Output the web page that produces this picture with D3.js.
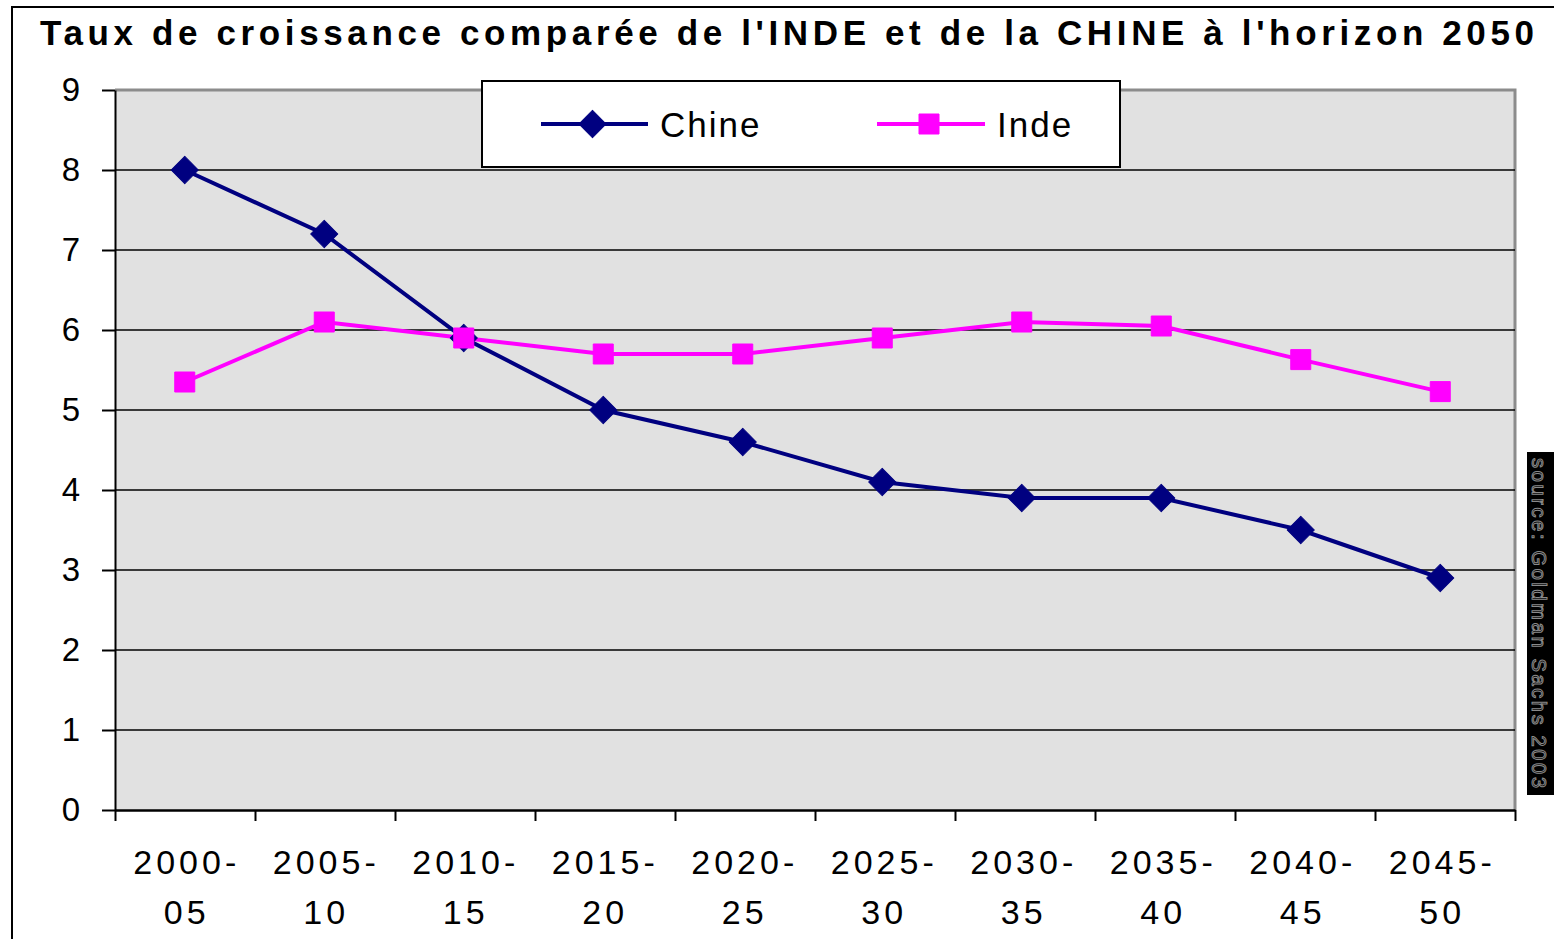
<!DOCTYPE html>
<html>
<head>
<meta charset="utf-8">
<script src="https://cdn.jsdelivr.net/npm/d3@7"></script>
<style>
  body { margin: 0; background: #fff; }
  svg { display: block; font-family: "Liberation Sans", Arial, sans-serif; }
</style>
</head>
<body>
<div id="chart"></div>
<script>
// données (taux de croissance, %)
var periodes = ["2000-05", "2005-10", "2010-15", "2015-20", "2020-25", "2025-30", "2030-35", "2035-40", "2040-45", "2045-50"];
var chine = [8.0, 7.2, 5.9, 5.0, 4.6, 4.1, 3.9, 3.9, 3.5, 2.9];
var inde = [5.35, 6.1, 5.9, 5.7, 5.7, 5.9, 6.1, 6.05, 5.63, 5.23];
var yTicks = [0, 1, 2, 3, 4, 5, 6, 7, 8, 9];

var W = 1554, H = 939;
var plot = {left: 115, right: 1515, top: 90, bottom: 810};

var svg = d3.select("#chart").append("svg")
    .attr("width", W)
    .attr("height", H);

// cadre extérieur (coupé à droite et en bas)
svg.append("rect")
    .attr("x", 12).attr("y", 7)
    .attr("width", W + 20).attr("height", H + 20)
    .attr("fill", "#fff")
    .attr("stroke", "#000")
    .attr("stroke-width", 2);

// titre
svg.append("text")
    .attr("x", 40).attr("y", 45)
    .attr("textLength", 1494)
    .attr("lengthAdjust", "spacing")
    .style("font-size", "35px")
    .style("font-weight", "bold")
    .text("Taux de croissance comparée de l'INDE et de la CHINE à l'horizon 2050");

// les points sont un peu décalés vers la gauche dans l'original
var x = d3.scaleBand()
    .domain(periodes)
    .range([plot.left, plot.right - 5]);

var xTicks = d3.scaleLinear()
    .domain([0, periodes.length])
    .range([plot.left, plot.right]);

var y = d3.scaleLinear()
    .domain([0, 9])
    .range([plot.bottom, plot.top]);

// fond de la zone de tracé
svg.append("rect")
    .attr("x", plot.left).attr("y", plot.top)
    .attr("width", plot.right - plot.left)
    .attr("height", plot.bottom - plot.top)
    .attr("fill", "#e1e1e1");

// bordure grise haut / droite
svg.append("path")
    .attr("d", "M" + plot.left + "," + plot.top + "H" + plot.right + "V" + plot.bottom)
    .attr("fill", "none")
    .attr("stroke", "#8c8c8c")
    .attr("stroke-width", 3);

// quadrillage
svg.append("g")
    .selectAll("line")
    .data(yTicks.filter(function(d) { return d > 0 && d < 9; }))
    .enter().append("line")
    .attr("x1", plot.left).attr("x2", plot.right)
    .attr("y1", function(d) { return y(d); })
    .attr("y2", function(d) { return y(d); })
    .attr("stroke", "#000")
    .attr("stroke-width", 1.5);

// axe Y
var yAxis = svg.append("g")
    .attr("transform", "translate(" + plot.left + ",0)")
    .call(d3.axisLeft(y).tickValues(yTicks).tickSize(13).tickSizeOuter(0).tickPadding(22));
yAxis.select(".domain").attr("stroke", "#000").attr("stroke-width", 2);
yAxis.selectAll(".tick line").attr("stroke", "#000").attr("stroke-width", 2);
yAxis.selectAll(".tick text")
    .style("font-size", "33px")
    .style("font-family", "'Liberation Sans', Arial, sans-serif")
    .attr("fill", "#000");

// axe X
var xAxis = svg.append("g")
    .attr("transform", "translate(0," + plot.bottom + ")")
    .call(d3.axisBottom(xTicks).ticks(periodes.length).tickSize(11).tickSizeOuter(0).tickFormat(""));
xAxis.select(".domain").attr("stroke", "#000").attr("stroke-width", 2.5);
xAxis.selectAll(".tick line").attr("stroke", "#000").attr("stroke-width", 2);

var labels = svg.append("g")
    .selectAll("text")
    .data(periodes)
    .enter().append("text")
    .attr("text-anchor", "middle")
    .style("font-size", "34px")
    .style("letter-spacing", "4px")
    .attr("fill", "#000");
labels.append("tspan")
    .attr("x", function(d) { return x(d) + x.bandwidth() / 2 + 2; })
    .attr("y", 874)
    .text(function(d) { return d.split("-")[0] + "-"; });
labels.append("tspan")
    .attr("x", function(d) { return x(d) + x.bandwidth() / 2 + 2; })
    .attr("y", 924)
    .text(function(d) { return d.split("-")[1]; });

// séries
var line = d3.line()
    .x(function(d, i) { return x(periodes[i]) + x.bandwidth() / 2; })
    .y(function(d) { return y(d); });

var series = [
    {name: "Chine", values: chine, color: "#000080", size: 370, rot: 45},
    {name: "Inde", values: inde, color: "#ff00ff", size: 400, rot: 0}
];

// diamant Excel = carré tourné de 45°
function marker(s) {
    return d3.symbol().type(d3.symbolSquare).size(s.size)();
}

series.forEach(function(s) {
    svg.append("path")
        .datum(s.values)
        .attr("d", line)
        .attr("fill", "none")
        .attr("stroke", s.color)
        .attr("stroke-width", 4);
});
series.forEach(function(s) {
    svg.append("g")
        .selectAll("path")
        .data(s.values)
        .enter().append("path")
        .attr("d", marker(s))
        .attr("transform", function(d, i) {
            return "translate(" + (x(periodes[i]) + x.bandwidth() / 2) + "," + y(d) + ") rotate(" + s.rot + ")";
        })
        .attr("fill", s.color)
        .attr("stroke", s.color)
        .attr("stroke-width", 1)
        .attr("stroke-linejoin", "round");
});

// légende
var legend = svg.append("g");
legend.append("rect")
    .attr("x", 482).attr("y", 81)
    .attr("width", 638).attr("height", 86)
    .attr("fill", "#fff")
    .attr("stroke", "#000")
    .attr("stroke-width", 2);

var legendItems = [
    {s: series[0], x0: 541, x1: 648, tx: 660},
    {s: series[1], x0: 877, x1: 985, tx: 997}
];
legendItems.forEach(function(it) {
    legend.append("line")
        .attr("x1", it.x0).attr("x2", it.x1)
        .attr("y1", 124).attr("y2", 124)
        .attr("stroke", it.s.color)
        .attr("stroke-width", 4);
    legend.append("path")
        .attr("d", marker(it.s))
        .attr("transform", "translate(" + ((it.x0 + it.x1) / 2 - 2) + ",124) rotate(" + it.s.rot + ")")
        .attr("fill", it.s.color)
        .attr("stroke", it.s.color)
        .attr("stroke-linejoin", "round");
    legend.append("text")
        .attr("x", it.tx).attr("y", 137)
        .style("font-size", "35px")
        .style("letter-spacing", "2px")
        .attr("fill", "#000")
        .text(it.s.name);
});

// source verticale
var src = svg.append("g");
src.append("rect")
    .attr("x", 1527).attr("y", 452)
    .attr("width", 30).attr("height", 343)
    .attr("fill", "#000");
src.append("text")
    .attr("transform", "translate(1532,458) rotate(90)")
    .attr("textLength", 330)
    .attr("lengthAdjust", "spacing")
    .style("font-size", "20px")
    .attr("fill", "#000")
    .attr("stroke", "#8a8a8a")
    .attr("stroke-width", 1)
    .text("source: Goldman Sachs 2003");
</script>
</body>
</html>
